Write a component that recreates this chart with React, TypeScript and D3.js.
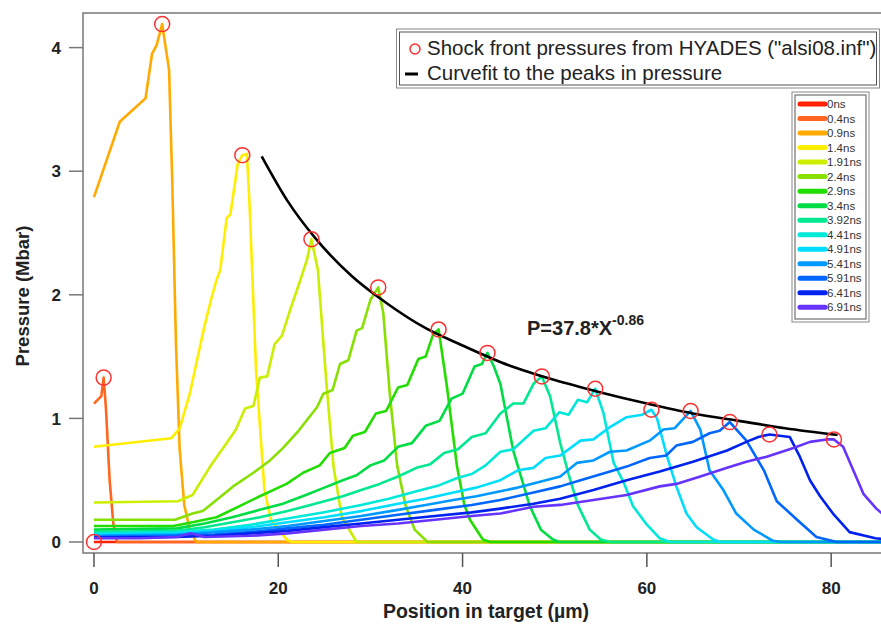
import React from 'react';
import * as d3 from 'd3';

// time labels of each pressure profile
const timeLabels = ['0ns', '0.4ns', '0.9ns', '1.4ns', '1.91ns', '2.4ns', '2.9ns', '3.4ns', '3.92ns', '4.41ns', '4.91ns', '5.41ns', '5.91ns', '6.41ns', '6.91ns'];
const lineColors = ['#ff2200', '#ff6620', '#ffaa00', '#ffee00', '#ccee00', '#88e000', '#22dd00', '#00dd44', '#00e890', '#00e8d8', '#00ddff', '#0099ff', '#0066ff', '#0022ee', '#6633ff'];

// pressure profiles: [position um, pressure Mbar]
const ns0 = [[0, 0], [86, 0]];
const ns0_4 = [[0, 1.12], [0.8, 1.18], [1.05, 1.33], [1.3, 1.08], [1.7, 0.5], [2.1, 0.15], [2.5, 0], [86, 0]];
const ns0_9 = [[0, 2.79], [2.8, 3.4], [5.6, 3.59], [6.3, 3.95], [6.8, 4.02], [7.4, 4.19], [8.15, 3.82], [8.5, 2.9], [8.9, 1.6], [9.3, 0.75], [9.8, 0.3], [10.4, 0.1], [11.1, 0], [86, 0]];
const ns1_4 = [[0, 0.77], [8.4, 0.84], [9.3, 0.92], [10.4, 1.2], [11.5, 1.58], [12.0, 1.75], [12.7, 1.96], [13.3, 2.12], [13.7, 2.2], [14.4, 2.62], [14.8, 2.65], [15.6, 3.06], [16.1, 3.13], [16.6, 3.14], [16.9, 2.7], [17.6, 1.37], [18.5, 0.42], [19.2, 0.18], [20.9, 0.02], [21.5, 0], [86, 0]];
const ns1_91 = [[0, 0.32], [9.1, 0.33], [10.7, 0.38], [12.6, 0.61], [14.4, 0.8], [15.4, 0.91], [16.4, 1.08], [17.3, 1.1], [18.0, 1.33], [18.8, 1.34], [19.6, 1.6], [20.4, 1.67], [21.3, 1.88], [22.4, 2.12], [23.1, 2.28], [23.6, 2.45], [24.3, 2.2], [25.25, 1.26], [26.0, 0.61], [26.9, 0.2], [28.5, 0], [86, 0]];
const ns2_4 = [[0, 0.18], [8.8, 0.18], [10.7, 0.23], [11.8, 0.25], [13.3, 0.34], [15.1, 0.45], [17.3, 0.56], [19.1, 0.66], [20.5, 0.76], [22.2, 0.9], [24.2, 1.09], [24.9, 1.2], [25.9, 1.23], [26.7, 1.44], [27.6, 1.47], [28.5, 1.71], [29.1, 1.73], [30.0, 1.96], [30.85, 2.06], [31.4, 1.85], [32.1, 1.2], [32.9, 0.62], [33.8, 0.3], [34.8, 0.1], [36.2, 0], [86, 0]];
const ns2_9 = [[0, 0.13], [8.6, 0.13], [10.7, 0.16], [13.3, 0.2], [15.8, 0.29], [18, 0.37], [20.9, 0.47], [22.7, 0.56], [24.5, 0.62], [25.6, 0.72], [27.2, 0.76], [28.1, 0.86], [29.4, 0.89], [30.6, 1.04], [31.7, 1.06], [33.0, 1.25], [34.0, 1.27], [35.2, 1.48], [36.0, 1.5], [36.8, 1.68], [37.4, 1.72], [38.3, 1.26], [39.4, 0.61], [40.2, 0.3], [40.8, 0.18], [42.2, 0.02], [43, 0], [86, 0]];
const ns3_4 = [[0, 0.1], [9, 0.11], [12, 0.15], [15, 0.2], [18, 0.26], [20.5, 0.31], [23, 0.38], [25, 0.44], [27, 0.5], [28.5, 0.54], [30, 0.62], [31.5, 0.66], [33, 0.77], [34.5, 0.8], [36, 0.94], [37.5, 0.98], [38.8, 1.16], [40, 1.2], [41.3, 1.42], [42.1, 1.44], [42.7, 1.53], [43.4, 1.42], [44.1, 1.28], [45.5, 0.74], [47.3, 0.29], [48.5, 0.1], [49.8, 0.02], [50.5, 0], [86, 0]];
const ns3_92 = [[0, 0.08], [9, 0.09], [12, 0.12], [15, 0.16], [18, 0.2], [21, 0.25], [24, 0.31], [27, 0.37], [29, 0.42], [31, 0.47], [33, 0.53], [35, 0.6], [36.5, 0.63], [38, 0.72], [39.5, 0.75], [41, 0.85], [42.5, 0.88], [44.1, 1.04], [45.5, 1.12], [46.6, 1.12], [47.7, 1.28], [48.6, 1.34], [49.5, 1.18], [50.6, 0.8], [51.5, 0.55], [52.5, 0.3], [53.8, 0.1], [55, 0.02], [56, 0], [86, 0]];
const ns4_41 = [[0, 0.07], [9, 0.08], [13, 0.1], [17, 0.14], [21, 0.19], [25, 0.24], [29, 0.3], [32, 0.35], [35, 0.41], [37.5, 0.46], [39.5, 0.52], [41, 0.55], [42.5, 0.62], [44.1, 0.73], [45.5, 0.75], [47.7, 0.9], [49, 0.92], [50.5, 1.05], [51.5, 1.03], [52.5, 1.15], [53.5, 1.13], [54.4, 1.24], [55.3, 1.04], [56.4, 0.64], [57.5, 0.48], [58.5, 0.29], [60, 0.14], [61.4, 0.03], [62.5, 0], [86, 0]];
const ns4_91 = [[0, 0.06], [9, 0.07], [13, 0.09], [17, 0.12], [21, 0.16], [25, 0.2], [29, 0.25], [33, 0.31], [36, 0.35], [39, 0.4], [41.5, 0.44], [44.1, 0.5], [46, 0.58], [47.7, 0.6], [49, 0.68], [50.6, 0.7], [52.8, 0.82], [54.2, 0.83], [56, 0.93], [57.8, 1.01], [59.5, 1.03], [60.5, 1.07], [61.1, 1.0], [62.2, 0.69], [63.2, 0.45], [64.3, 0.23], [65.4, 0.12], [67.2, 0.02], [68, 0], [86, 0]];
const ns5_41 = [[0, 0.05], [9, 0.06], [13, 0.08], [17, 0.1], [21, 0.13], [25, 0.17], [29, 0.21], [33, 0.26], [36, 0.3], [39, 0.34], [41.5, 0.37], [44.1, 0.41], [46, 0.44], [48, 0.48], [50.6, 0.53], [52.4, 0.64], [54.2, 0.66], [56, 0.73], [57.8, 0.74], [60.3, 0.82], [61.8, 0.91], [63, 0.92], [64.75, 1.06], [65.8, 0.91], [66.8, 0.58], [68.3, 0.42], [69.7, 0.23], [71.6, 0.1], [73.7, 0.01], [74.5, 0], [86, 0]];
const ns5_91 = [[0, 0.04], [9, 0.05], [13, 0.06], [17, 0.08], [21, 0.11], [25, 0.14], [29, 0.18], [33, 0.22], [37, 0.26], [41, 0.3], [44.1, 0.34], [47.7, 0.4], [50.6, 0.45], [52.8, 0.5], [56, 0.57], [57.8, 0.61], [60.3, 0.68], [62.1, 0.7], [63.2, 0.78], [65, 0.81], [66.8, 0.88], [67.9, 0.9], [69, 0.97], [70.8, 0.82], [72.7, 0.58], [74.1, 0.33], [76.3, 0.18], [78.4, 0.04], [80.6, 0], [86, 0]];
const ns6_41 = [[0, 0.035], [9, 0.04], [13, 0.05], [17, 0.07], [21, 0.09], [25, 0.12], [29, 0.15], [33, 0.18], [37, 0.21], [41, 0.24], [44.1, 0.27], [47.7, 0.31], [50.6, 0.35], [54.2, 0.42], [57.8, 0.5], [61.4, 0.57], [65, 0.65], [68.7, 0.74], [70.8, 0.81], [72.1, 0.85], [73.3, 0.87], [75.5, 0.85], [76.6, 0.69], [77.7, 0.5], [78.8, 0.37], [80.2, 0.23], [82, 0.08], [84.8, 0.03], [86, 0.02]];
const ns6_91 = [[0, 0.03], [5, 0.03], [9, 0.04], [10.5, 0.07], [12, 0.04], [17, 0.05], [21, 0.07], [25, 0.1], [29, 0.13], [33, 0.15], [37, 0.18], [41, 0.21], [44.1, 0.23], [47.7, 0.285], [50.6, 0.3], [54.2, 0.34], [57.8, 0.38], [61.4, 0.45], [63.2, 0.47], [65.8, 0.53], [68.7, 0.6], [70.8, 0.65], [73, 0.69], [75.9, 0.76], [77.7, 0.81], [79.5, 0.83], [80.3, 0.83], [81.3, 0.77], [82.4, 0.58], [83.5, 0.39], [84.9, 0.27], [86, 0.2]];

const profiles = [ns0, ns0_4, ns0_9, ns1_4, ns1_91, ns2_4, ns2_9, ns3_4, ns3_92, ns4_41, ns4_91, ns5_41, ns5_91, ns6_41, ns6_91];

// shock front peaks (red circles)
const peakX = [0, 1.05, 7.4, 16.1, 23.6, 30.85, 37.4, 42.7, 48.6, 54.4, 60.5, 64.75, 69.0, 73.3, 80.3];
const peakP = [0, 1.33, 4.19, 3.13, 2.45, 2.06, 1.72, 1.53, 1.34, 1.24, 1.07, 1.06, 0.97, 0.87, 0.83];

// curve fit
const fitX = [18.2, 21, 24, 28, 32, 36, 40, 45, 50, 55, 60, 65, 70, 75, 80.7];
const fitP = [3.12, 2.76, 2.46, 2.15, 1.92, 1.73, 1.59, 1.43, 1.31, 1.21, 1.12, 1.04, 0.98, 0.92, 0.866];

const xTicks = [0, 20, 40, 60, 80];
const yTicks = [0, 1, 2, 3, 4];

const font = "Arial, 'Liberation Sans', Helvetica, sans-serif";

export default function App() {
  const x = d3.scaleLinear().domain([-1.19, 85.3]).range([83, 880]);
  const y = d3.scaleLinear().domain([-0.089, 4.28]).range([553, 13]);
  const line = d3.line<number[]>().x(d => x(d[0])).y(d => y(d[1]));
  const fitLine = d3.line<number>().x(d => x(d)).y((d, i) => y(fitP[i])).curve(d3.curveMonotoneX);
  const legY = d3.scalePoint<string>().domain(timeLabels).range([104, 307.3]);

  return (
    <svg width={881} height={629} style={{ position: 'absolute', left: 0, top: 0, background: '#fff' }} fontFamily={font}>
      <defs>
        <clipPath id="plot">
          <rect x={83} y={13} width={800} height={540} />
        </clipPath>
      </defs>
      <rect x={0} y={0} width={881} height={629} fill="#fff" />

      <g clipPath="url(#plot)">
        {profiles.map((p, i) => (
          <path key={i} d={line(p) || ''} fill="none" stroke={lineColors[i]} strokeWidth={2.6} strokeLinejoin="round" />
        ))}
        <path d={fitLine(fitX) || ''} fill="none" stroke="#000" strokeWidth={2.6} />
        {peakX.map((px, i) => (
          <circle key={i} cx={x(px)} cy={y(peakP[i])} r={7.5} fill="none" stroke="#ff3030" strokeWidth={1.5} />
        ))}
      </g>

      {/* frame */}
      <rect x={83} y={13} width={802} height={540} fill="none" stroke="#777" strokeWidth={1.5} />

      {/* y axis */}
      {yTicks.map(t => (
        <g key={t}>
          <line x1={69} x2={83} y1={y(t)} y2={y(t)} stroke="#777" strokeWidth={1.5} />
          <text x={61} y={y(t)} dy="0.36em" textAnchor="end" fontSize={17} fontWeight="bold" fill="#222">{t}</text>
        </g>
      ))}
      <text transform="translate(22,296) rotate(-90)" textAnchor="middle" dy="0.36em" fontSize={18.5} fontWeight="bold" fill="#222">Pressure (Mbar)</text>

      {/* x axis */}
      {xTicks.map(t => (
        <g key={t}>
          <line x1={x(t)} x2={x(t)} y1={553} y2={567} stroke="#555" strokeWidth={1.5} />
          <text x={x(t)} y={594} textAnchor="middle" fontSize={17} fontWeight="bold" fill="#222">{t}</text>
        </g>
      ))}
      <text x={486} y={618} textAnchor="middle" fontSize={19.5} fontWeight="bold" fill="#222">Position in target (µm)</text>

      {/* formula */}
      <text x={527} y={335} fontSize={20} fontWeight="bold" fill="#222">
        P=37.8*X<tspan fontSize={14} dy={-10}>-0.86</tspan>
      </text>

      {/* legend top */}
      <rect x={396.5} y={29} width={483} height={59} fill="#fff" stroke="#888" strokeWidth={1} />
      <rect x={399.5} y={32} width={477} height={53} fill="none" stroke="#555" strokeWidth={1} />
      <circle cx={415} cy={49} r={5} fill="none" stroke="#ff3030" strokeWidth={1.5} />
      <text x={427} y={55} fontSize={20.5} fill="#222">Shock front pressures from HYADES ("alsi08.inf")</text>
      <line x1={405} x2={418} y1={74} y2={74} stroke="#000" strokeWidth={3} />
      <text x={427} y={80} fontSize={20.5} fill="#222">Curvefit to the peaks in pressure</text>

      {/* legend times */}
      <rect x={792} y={92} width={77} height={230} fill="#fff" stroke="#888" strokeWidth={1} />
      <rect x={795} y={95} width={71} height={224} fill="none" stroke="#555" strokeWidth={1} />
      {timeLabels.map((t, i) => (
        <g key={t}>
          <line x1={800} x2={825} y1={legY(t)} y2={legY(t)} stroke={lineColors[i]} strokeWidth={5} strokeLinecap="round" />
          <text x={827} y={legY(t)} dy="0.36em" fontSize={11.5} fill="#333">{t}</text>
        </g>
      ))}
    </svg>
  );
}
